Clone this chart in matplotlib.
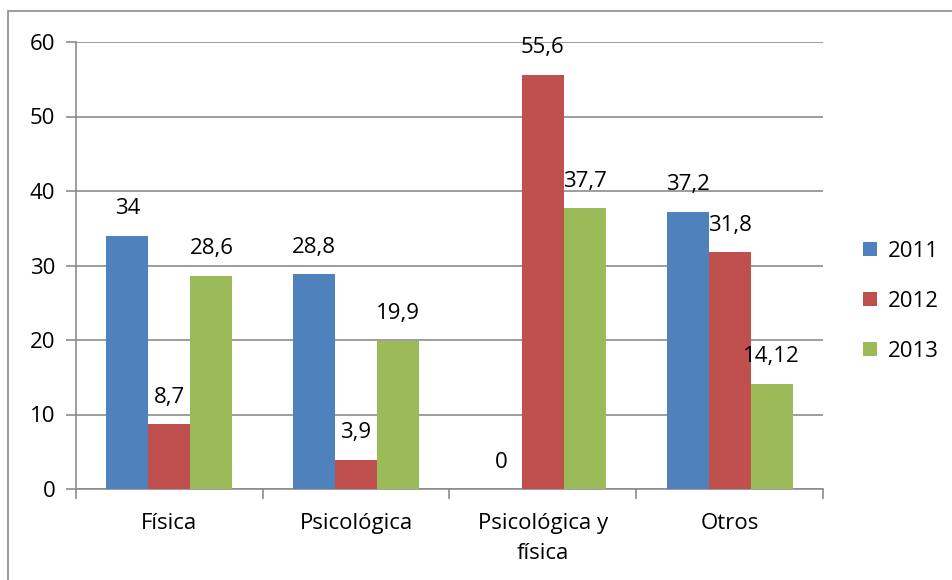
import matplotlib
matplotlib.use("Agg")
import matplotlib.pyplot as plt
import matplotlib.patches as mpatches
import numpy as np

categories = ["Física", "Psicológica", "Psicológica y\nfísica", "Otros"]
years = ["2011", "2012", "2013"]
v2011 = [34, 28.8, 0, 37.2]
v2012 = [8.7, 3.9, 55.6, 31.8]
v2013 = [28.6, 19.9, 37.7, 14.12]
labels2011 = ["34", "28,8", "0", "37,2"]
labels2012 = ["8,7", "3,9", "55,6", "31,8"]
labels2013 = ["28,6", "19,9", "37,7", "14,12"]
yticks = [0, 10, 20, 30, 40, 50, 60]

colors = ["#4F81BD", "#C0504D", "#9BBB59"]
plt.rcParams['font.family'] = ['Open Sans', 'DejaVu Sans']
FS = 16

fig = plt.figure(figsize=(9.53, 5.8), dpi=100)
ax = fig.add_axes([76/953, 1-489/580, (823-76)/953, (489-42)/580])

x = np.arange(len(categories))
w = 0.225
series = [v2011, v2012, v2013]
lbls = [labels2011, labels2012, labels2013]
for i, (vals, lab) in enumerate(zip(series, lbls)):
    pos = x + (i - 1) * w
    ax.bar(pos, vals, width=w, color=colors[i], label=years[i], zorder=3)
    for p, v, t in zip(pos, vals, lab):
        ax.annotate(t, (p, v), xytext=(0, 27), textcoords="offset pixels",
                    ha="center", va="center", fontsize=FS, color="black")

ax.set_xlim(-0.5, len(categories) - 0.5)
ax.set_ylim(0, 60)
ax.set_yticks(yticks)
ax.set_yticklabels([str(t) for t in yticks], fontsize=FS)
ax.yaxis.grid(True, color="#8c8c8c", linewidth=1.2, zorder=0)
ax.set_axisbelow(True)

ax.set_xticks(x)
ax.set_xticklabels(categories, fontsize=FS, linespacing=1.6)
ax.set_xticks(np.arange(len(categories) + 1) - 0.5, minor=True)
ax.tick_params(axis="x", which="major", length=0, pad=17)
ax.tick_params(axis="x", which="minor", length=7, color="#8c8c8c", width=1.2)
ax.tick_params(axis="y", length=7, color="#8c8c8c", width=1.2, pad=8)

for s in ["top", "right"]:
    ax.spines[s].set_visible(False)
for s in ["left", "bottom"]:
    ax.spines[s].set_color("#8c8c8c")
    ax.spines[s].set_linewidth(1.2)

leg = ax.legend(loc="upper left", bbox_to_anchor=(1.027, 0.60), frameon=False,
                fontsize=FS, handlelength=0.6, handleheight=0.6,
                handletextpad=0.5, labelspacing=1.3)

frame = mpatches.Rectangle((8/953, -0.05), 1.1, 1 - 11/580 + 0.05,
                           transform=fig.transFigure, fill=False,
                           edgecolor="#8c8c8c", linewidth=1.2)
fig.patches.append(frame)

fig.savefig("out.png", dpi=100)
